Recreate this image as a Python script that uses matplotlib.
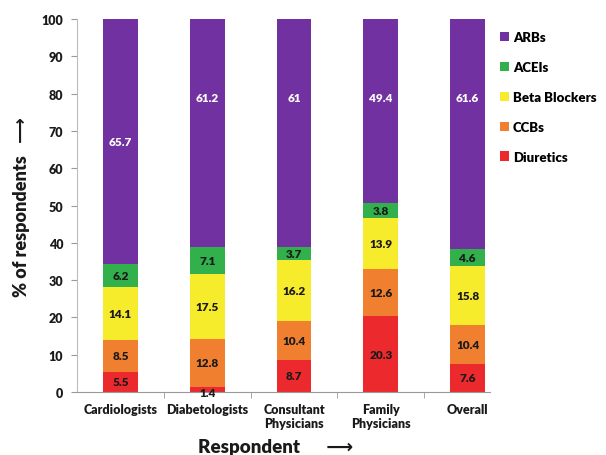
import matplotlib
matplotlib.use("Agg")
import matplotlib.pyplot as plt
import numpy as np

plt.rcParams['font.family'] = ['Lato', 'DejaVu Sans']

categories = ["Cardiologists", "Diabetologists", "Consultant\nPhysicians", "Family\nPhysicians", "Overall"]
series_names = ["Diuretics", "CCBs", "Beta Blockers", "ACEIs", "ARBs"]
diuretics = [5.5, 1.4, 8.7, 20.3, 7.6]
ccbs = [8.5, 12.8, 10.4, 12.6, 10.4]
beta_blockers = [14.1, 17.5, 16.2, 13.9, 15.8]
aceis = [6.2, 7.1, 3.7, 3.8, 4.6]
arbs = [65.7, 61.2, 61, 49.4, 61.6]

series = [diuretics, ccbs, beta_blockers, aceis, arbs]
colors = ["#EC2A2E", "#F08030", "#F7EC2C", "#31B04B", "#7131A1"]
text_colors = ["#1a1a1a", "#1a1a1a", "#1a1a1a", "#1a1a1a", "white"]

fig = plt.figure(figsize=(6.06, 4.56), dpi=100)
ax = fig.add_axes([0.127, 0.138, 0.682, 0.818])

x = np.arange(len(categories))
width = 0.40
bottom = np.zeros(len(categories))
handles = []
for vals, name, col, tcol in zip(series, series_names, colors, text_colors):
    vals = np.array(vals, dtype=float)
    h = ax.bar(x, vals, width, bottom=bottom, color=col, label=name, linewidth=0)
    handles.append(h)
    for i, v in enumerate(vals):
        if name == "ARBs":
            ypos = bottom[i] + v / 2 if i == 0 else 79
        elif v < 2:
            ypos = bottom[i]
        else:
            ypos = bottom[i] + v / 2
        ax.text(x[i], ypos, f"{v:g}", ha="center", va="center", fontsize=8.5,
                fontweight="heavy", color=tcol)
    bottom += vals

ax.set_xlim(-0.5, 4.26)
ax.set_ylim(0, 100)
ax.set_yticks(np.arange(0, 101, 10))
ax.set_xticks(x)
ax.set_xticklabels(categories, fontsize=9, fontweight="heavy", color="#1a1a1a")
ax.set_xticks(np.arange(0.5, 4.0, 1.0), minor=True)
ax.tick_params(axis="x", which="major", length=0, pad=8)
ax.tick_params(axis="x", which="minor", length=4, color="#999999", direction="out")
ax.tick_params(axis="y", length=4, color="#999999", labelsize=9, pad=6,
               labelcolor="#1a1a1a")
for lab in ax.get_yticklabels():
    lab.set_fontweight("heavy")

for s in ["top", "right"]:
    ax.spines[s].set_visible(False)
ax.spines["left"].set_color("#BBBBBB")
ax.spines["bottom"].set_color("#999999")

ax.set_ylabel("% of respondents   \u27F6", fontsize=13, fontweight="heavy",
              color="#1a1a1a", labelpad=8)
fig.text(0.455, 0.0, "Respondent      \u27F6", fontsize=13.5, fontweight="heavy",
         color="#1a1a1a", ha="center", va="bottom")

fig.legend(handles[::-1], series_names[::-1], loc="upper left",
           bbox_to_anchor=(0.805, 0.955), frameon=False,
           handlelength=0.7, handleheight=0.7, handletextpad=0.3,
           labelspacing=1.35, prop={"weight": "heavy", "size": 9.5})

fig.savefig("out.png", dpi=100)
